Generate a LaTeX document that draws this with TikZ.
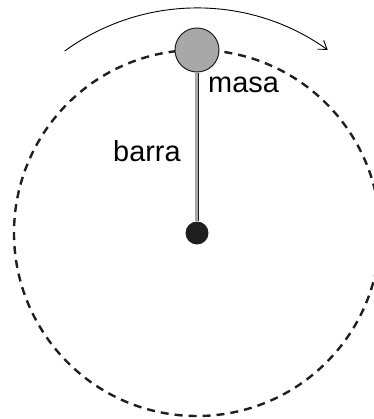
\documentclass[tikz,border=0pt]{standalone}
\usepackage{fontspec}
\setmainfont{Liberation Sans}
\usepackage{tikz}
\usetikzlibrary{
  arrows.meta,%
  positioning
}
\tikzset{>=latex}
\tikzset{font=\fontsize{29}{34}\selectfont}
\definecolor{gris}{gray}{0.66}
\definecolor{negro}{gray}{0.12}
\tikzset{etiqueta/.style={anchor=base west, inner sep=0pt}}

\begin{document}
\begin{tikzpicture}[x=1bp, y=1bp]
          \useasboundingbox (-197,-186) rectangle (177,233);
          \draw[negro, line width=2.4bp, dash pattern=on 8bp off 6bp] (0,0) circle (183);
          \draw[line width=0.9bp, -{Straight Barb[length=8bp,width=11bp]}] (126:225) arc (126:54.5:225);
          \node[circle, fill=negro, minimum size=23bp, inner sep=0pt] (eje) at (0,0) {};
          \node[circle, draw=negro, fill=gris, line width=1bp, minimum size=44bp, inner sep=0pt] (bola) at (0,183) {};
          \draw[negro, line width=0.9bp, double=gris, double distance=3bp] (bola.south) -- (eje.north);
          \node[etiqueta] (etiqmasa) at (11,141) {masa};
          \node[etiqueta] (etiqbarra) at (-84,72) {barra};
        \end{tikzpicture}
\end{document}
